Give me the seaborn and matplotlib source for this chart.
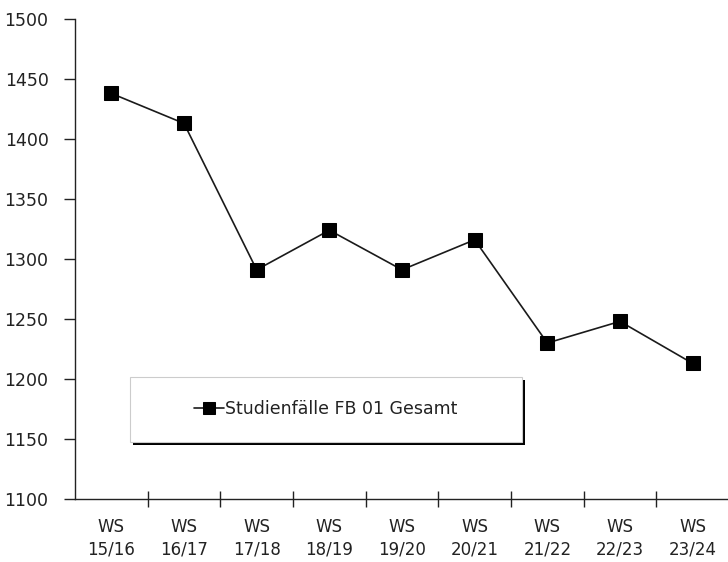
import matplotlib
matplotlib.use("Agg")
import matplotlib.pyplot as plt
from matplotlib.patches import Rectangle
import seaborn as sns
import pandas as pd
import numpy as np

semesters = ["WS\n15/16", "WS\n16/17", "WS\n17/18", "WS\n18/19", "WS\n19/20",
             "WS\n20/21", "WS\n21/22", "WS\n22/23", "WS\n23/24"]
values = [1438, 1413, 1291, 1324, 1291, 1316, 1230, 1248, 1213]
series_name = "Studienfälle FB 01 Gesamt"

sns.set_style("white")
plt.rcParams['font.family'] = ['DejaVu Sans']

df = pd.DataFrame({"pos": np.arange(len(semesters)), "value": values, "series": series_name})

fig = plt.figure(figsize=(7.28, 5.62), dpi=100)
ax = fig.add_axes([75/728, 1-499/562, 654/728, 480/562])

sns.lineplot(data=df, x="pos", y="value", hue="series", palette=["#1a1a1a"],
             marker="s", markersize=10, markeredgecolor="black", markerfacecolor="black",
             linewidth=1.2, ax=ax)

ax.set_xlim(-0.5, len(semesters) - 0.5)
ax.set_ylim(1100, 1500)
ax.set_yticks(np.arange(1100, 1501, 50))
ax.set_xticks(np.arange(0.5, len(semesters) - 0.5, 1.0))
ax.set_xticklabels([])
ax.set_xticks(np.arange(len(semesters)), minor=True)
ax.set_xticklabels(semesters, minor=True, fontsize=12, color="#222222", linespacing=1.3)
ax.tick_params(axis="x", which="major", bottom=True, direction="inout", length=12, width=1, color="#222222")
ax.tick_params(axis="x", which="minor", bottom=True, length=0, pad=14)
ax.tick_params(axis="y", left=True, direction="out", length=8, width=1, color="#222222",
               labelsize=12.5, labelcolor="#222222", pad=11)
ax.set_xlabel("")
ax.set_ylabel("")
for s in ["top", "right"]:
    ax.spines[s].set_visible(False)
for s in ["left", "bottom"]:
    ax.spines[s].set_color("#222222")
    ax.spines[s].set_linewidth(1)

# legend box (frame + black shadow) in axes coordinates
x0, x1 = (130 - 75) / 654, (522 - 75) / 654
y1, y0 = 1 - (377 - 19) / 480, 1 - (442 - 19) / 480
shadow = Rectangle((x0 + 3/654, y0 - 3/480), x1 - x0, y1 - y0, transform=ax.transAxes,
                   facecolor="black", edgecolor="none", zorder=4)
box = Rectangle((x0, y0), x1 - x0, y1 - y0, transform=ax.transAxes,
                facecolor="white", edgecolor="#cccccc", linewidth=0.8, zorder=5)
ax.add_patch(shadow)
ax.add_patch(box)

leg = ax.legend(loc="center", bbox_to_anchor=((x0 + x1) / 2, (y0 + y1) / 2),
                fontsize=12.5, frameon=False, handlelength=1.7, handletextpad=0.1,
                markerscale=0.85)
leg.set_zorder(6)
for t in leg.get_texts():
    t.set_color("#222222")

fig.savefig("out.png", dpi=100)
